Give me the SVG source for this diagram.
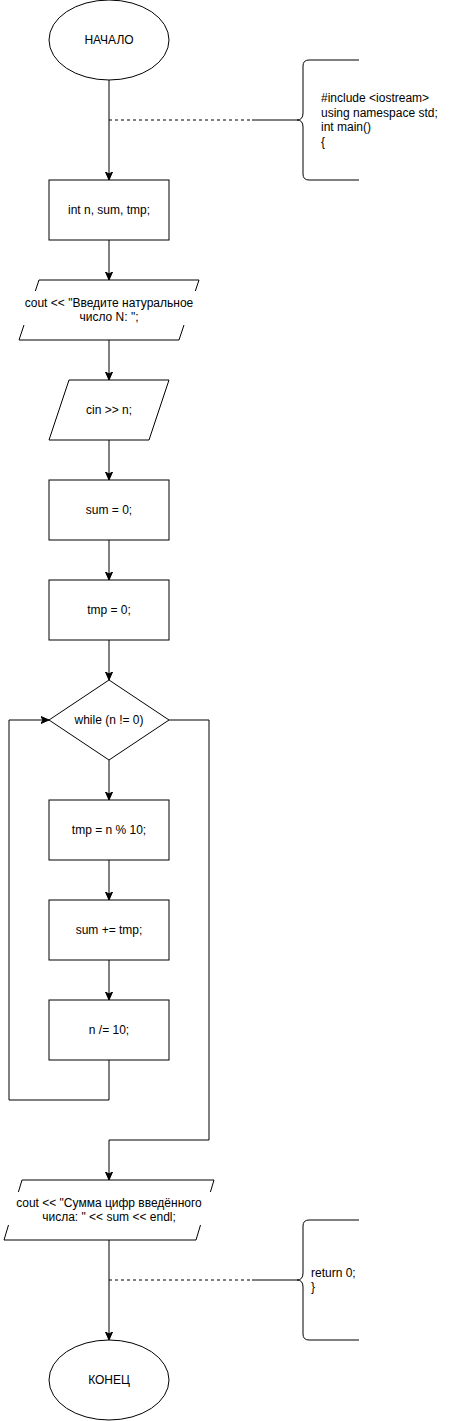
<svg xmlns="http://www.w3.org/2000/svg" width="470" height="1421" viewBox="0 0 470 1421">
<defs>
<style>
.s{fill:#fff;stroke:#000;stroke-width:1}
.t{font-family:"Liberation Sans",Arial,sans-serif;font-size:12px;fill:#000;text-anchor:middle}
.tl{font-family:"Liberation Sans",Arial,sans-serif;font-size:12px;fill:#000;text-anchor:start}
.e{fill:none;stroke:#000;stroke-width:1}
.d{fill:none;stroke:#000;stroke-width:1;stroke-dasharray:3 3}
.bg{fill:#fff;stroke:none}
</style>
<marker id="a" markerUnits="userSpaceOnUse" markerWidth="10" markerHeight="10" refX="8" refY="4" orient="auto" viewBox="0 0 10 8">
<path d="M0,0.5 L8,4 L0,7.5 L2,4 Z" fill="#000" stroke="#000" stroke-width="1"/>
</marker>
</defs>
<rect width="470" height="1421" fill="#fff"/>
<g id="connectors">
<path class="e" d="M109,80 V180" marker-end="url(#a)"/>
<path class="e" d="M109,240 V280" marker-end="url(#a)"/>
<path class="e" d="M109,340 V380" marker-end="url(#a)"/>
<path class="e" d="M109,440 V480" marker-end="url(#a)"/>
<path class="e" d="M109,540 V580" marker-end="url(#a)"/>
<path class="e" d="M109,640 V680" marker-end="url(#a)"/>
<path class="e" d="M109,760 V800" marker-end="url(#a)"/>
<path class="e" d="M109,860 V900" marker-end="url(#a)"/>
<path class="e" d="M109,960 V1000" marker-end="url(#a)"/>
<path class="e" d="M109,1060 V1100 H9 V720 H49" marker-end="url(#a)"/>
<path class="e" d="M169,720 H209 V1140 H109 V1180" marker-end="url(#a)"/>
<path class="e" d="M109,1240 V1340" marker-end="url(#a)"/>
<path class="d" d="M109,120 H252"/>
<path class="e" d="M252,120 H297"/>
<path class="d" d="M109,1280 H252"/>
<path class="e" d="M252,1280 H297"/>
</g>
<g id="start">
<ellipse class="s" cx="109" cy="40" rx="60" ry="40"/>
<text class="t" x="109" y="44.2">НАЧАЛО</text>
</g>
<g id="comment1">
<path class="e" d="M359,60 H309 Q303,60 303,66 V113 Q303,120 297,120 Q303,120 303,127 V174 Q303,180 309,180 H359"/>
<text class="tl" x="321" y="102.4">#include &lt;iostream&gt;</text>
<text class="tl" x="321" y="116.8">using namespace std;</text>
<text class="tl" x="321" y="131.2">int main()</text>
<text class="tl" x="321" y="145.6">{</text>
</g>
<g id="decl">
<rect class="s" x="49" y="180" width="120" height="60"/>
<text class="t" x="109" y="214.2">int n, sum, tmp;</text>
</g>
<g id="prompt">
<polygon class="s" points="39,280 199,280 179,340 19,340"/>
<rect class="bg" x="19" y="291" width="181" height="34"/>
<text class="t" x="109" y="306.8">cout &lt;&lt; "Введите натуральное</text>
<text class="t" x="109" y="321.2">число N: ";</text>
</g>
<g id="input">
<polygon class="s" points="69,380 169,380 149,440 49,440"/>
<text class="t" x="109" y="414.2">cin &gt;&gt; n;</text>
</g>
<g id="sum0">
<rect class="s" x="49" y="480" width="120" height="60"/>
<text class="t" x="109" y="514.2">sum = 0;</text>
</g>
<g id="tmp0">
<rect class="s" x="49" y="580" width="120" height="60"/>
<text class="t" x="109" y="614.2">tmp = 0;</text>
</g>
<g id="while">
<polygon class="s" points="109,680 169,720 109,760 49,720"/>
<text class="t" x="109" y="724.2">while (n != 0)</text>
</g>
<g id="mod">
<rect class="s" x="49" y="800" width="120" height="60"/>
<text class="t" x="109" y="834.2">tmp = n % 10;</text>
</g>
<g id="add">
<rect class="s" x="49" y="900" width="120" height="60"/>
<text class="t" x="109" y="934.2">sum += tmp;</text>
</g>
<g id="div">
<rect class="s" x="49" y="1000" width="120" height="60"/>
<text class="t" x="109" y="1034.2">n /= 10;</text>
</g>
<g id="output">
<polygon class="s" points="22,1180 214,1180 196,1240 4,1240"/>
<rect class="bg" x="4" y="1192" width="211" height="33"/>
<text class="t" x="109" y="1206.8">cout &lt;&lt; "Сумма цифр введённого</text>
<text class="t" x="109" y="1221.2">числа: " &lt;&lt; sum &lt;&lt; endl;</text>
</g>
<g id="comment2">
<path class="e" d="M359,1220 H309 Q303,1220 303,1226 V1273 Q303,1280 297,1280 Q303,1280 303,1287 V1334 Q303,1340 309,1340 H359"/>
<text class="tl" x="311" y="1276.8">return 0;</text>
<text class="tl" x="311" y="1291.2">}</text>
</g>
<g id="end">
<ellipse class="s" cx="109" cy="1380" rx="60" ry="40"/>
<text class="t" x="109" y="1384.2">КОНЕЦ</text>
</g>
</svg>
